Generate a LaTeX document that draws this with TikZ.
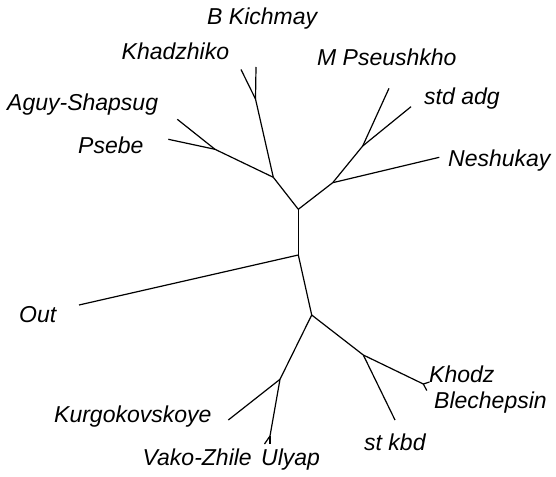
\documentclass[tikz,border=0pt]{standalone}
\usepackage{fontspec}
\setmainfont{Liberation Sans}
\begin{document}
\begin{tikzpicture}[x=1pt,y=-1pt,
  branch/.style={line width=1.2pt, line cap=butt},
  taxon/.style={anchor=base west, inner sep=0pt, font=\itshape\fontsize{23}{27}\selectfont}]
\useasboundingbox (0,0) rectangle (556,476);
% internal nodes
\coordinate (top) at (298.3,209.3);
\coordinate (root) at (298.3,255);
\coordinate (low) at (311.7,315);
\coordinate (nL) at (273.3,177.3);
\coordinate (nKK) at (255.5,99);
\coordinate (nAP) at (215,149.3);
\coordinate (nR) at (332.7,182.7);
\coordinate (nMS) at (362.7,146);
\coordinate (nLL) at (280,379.3);
\coordinate (nVU) at (270,436);
\coordinate (nLR) at (363.3,355);
\coordinate (nKB) at (423.3,384);
% leaf tips
\coordinate (tBK) at (256,67);
\coordinate (tKH) at (241,69.5);
\coordinate (tAG) at (177.3,119.3);
\coordinate (tPS) at (168.3,139.3);
\coordinate (tMP) at (389,88.3);
\coordinate (tSA) at (411,106.7);
\coordinate (tNE) at (439.3,157.3);
\coordinate (tOUT) at (79,305);
\coordinate (tKU) at (228.3,420);
\coordinate (tVA) at (264.5,444);
\coordinate (tUL) at (270,444);
\coordinate (tSK) at (395,420);
\coordinate (tKD) at (429.5,382);
\coordinate (tBL) at (426.8,390.5);
% branches
\draw[branch] (root) -- (top);
\draw[branch] (root) -- (low);
\draw[branch] (root) -- (tOUT);
\draw[branch] (top) -- (nL);
\draw[branch] (nL) -- (nKK);
\draw[branch] (nKK) -- (tBK);
\draw[branch] (nKK) -- (tKH);
\draw[branch] (nL) -- (nAP);
\draw[branch] (nAP) -- (tAG);
\draw[branch] (nAP) -- (tPS);
\draw[branch] (top) -- (nR);
\draw[branch] (nR) -- (nMS);
\draw[branch] (nMS) -- (tMP);
\draw[branch] (nMS) -- (tSA);
\draw[branch] (nR) -- (tNE);
\draw[branch] (low) -- (nLL);
\draw[branch] (nLL) -- (tKU);
\draw[branch] (nLL) -- (nVU);
\draw[branch] (nVU) -- (tVA);
\draw[branch] (nVU) -- (tUL);
\draw[branch] (low) -- (nLR);
\draw[branch] (nLR) -- (tSK);
\draw[branch] (nLR) -- (nKB);
\draw[branch] (nKB) -- (tKD);
\draw[branch] (nKB) -- (tBL);
% taxon labels
\node[taxon] (lBK) at (207,25) {B Kichmay};
\node[taxon] (lKH) at (121.5,59.3) {Khadzhiko};
\node[taxon] (lMP) at (317,66) {M Pseushkho};
\node[taxon] (lSA) at (424,105) {std adg};
\node[taxon] (lNE) at (448,166) {Neshukay};
\node[taxon] (lAG) at (7,110.7) {Aguy-Shapsug};
\node[taxon] (lPS) at (78,153.3) {Psebe};
\node[taxon] (lOUT) at (19,322.7) {Out};
\node[taxon] (lKU) at (54,422) {Kurgokovskoye};
\node[taxon] (lVA) at (142.5,465.5) {Vako-Zhile};
\node[taxon] (lUL) at (261,465.5) {Ulyap};
\node[taxon] (lSK) at (364,450) {st kbd};
\node[taxon] (lKD) at (429,382.5) {Khodz};
\node[taxon] (lBL) at (434,408) {Blechepsin};
\end{tikzpicture}
\end{document}
